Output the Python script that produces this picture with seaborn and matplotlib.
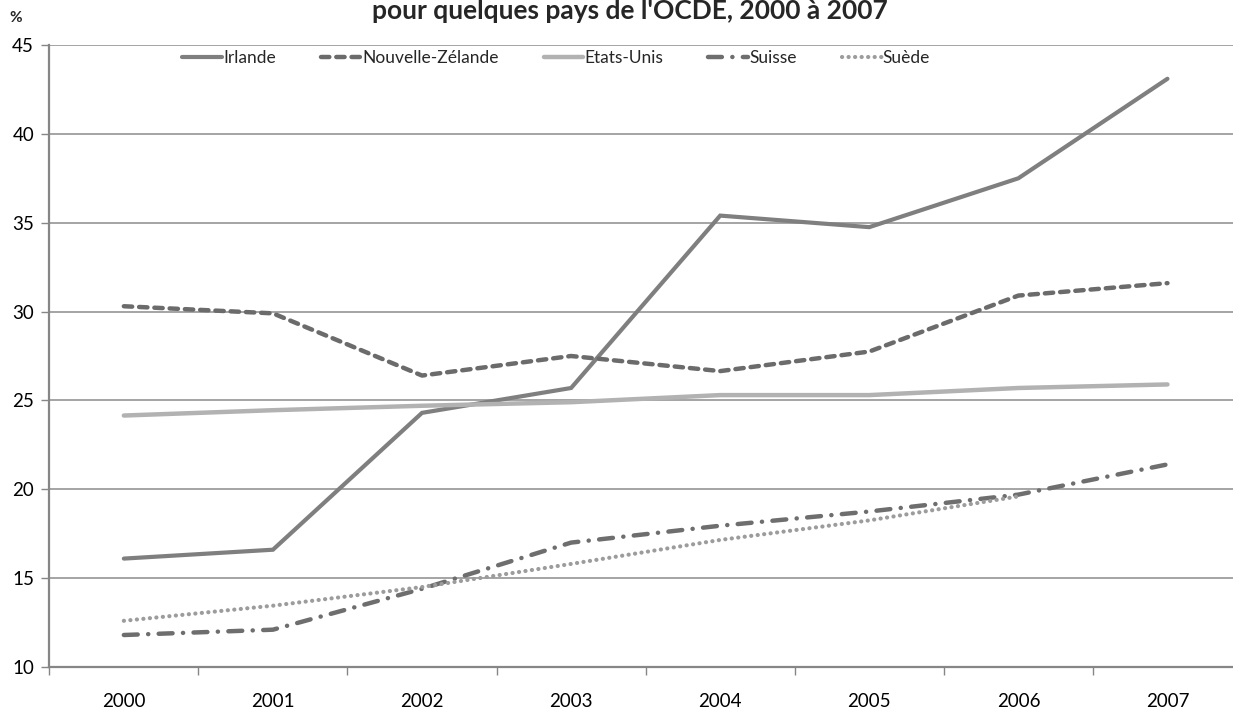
"""
plot.py

Recreates the OCDE line chart (share by country, 2000 to 2007) in grey tones.
"""

import numpy as np
import pandas as pd
import matplotlib
matplotlib.use("Agg")
import matplotlib.pyplot as plt
import seaborn as sns

sns.set_theme(style="white")
plt.rcParams["font.family"] = ["Lato", "DejaVu Sans"]

years = [2000, 2001, 2002, 2003, 2004, 2005, 2006, 2007]
irlande = [16.1, 16.6, 24.3, 25.7, 35.4, 34.75, 37.5, 43.1]
nouvelle_zelande = [30.3, 29.9, 26.4, 27.5, 26.65, 27.75, 30.9, 31.6]
etats_unis = [24.15, 24.45, 24.7, 24.9, 25.3, 25.3, 25.7, 25.9]
suisse = [11.8, 12.1, 14.4, 17.0, 17.95, 18.75, 19.7, 21.4]
suede = [12.6, 13.45, 14.5, 15.8, 17.15, 18.25, 19.6, np.nan]

y_ticks = [10, 15, 20, 25, 30, 35, 40, 45]

series = {
    "Irlande": irlande,
    "Nouvelle-Zélande": nouvelle_zelande,
    "Etats-Unis": etats_unis,
    "Suisse": suisse,
    "Suède": suede,
}

styles = {
    "Irlande": dict(color="#7f7f7f", lw=3.0, linestyle="-"),
    "Nouvelle-Zélande": dict(color="#6b6b6b", lw=3.2, linestyle=(0, (6.0, 5.0))),
    "Etats-Unis": dict(color="#b2b2b2", lw=3.2, linestyle="-"),
    "Suisse": dict(color="#6e6e6e", lw=3.2, linestyle=(0, (10.0, 7.5, 0.1, 7.5))),
    "Suède": dict(color="#9c9c9c", lw=3.0, linestyle=(0, (0.1, 4.6))),
}

rows = []
for name, values in series.items():
    for year, value in zip(years, values):
        rows.append({"year": year, "pays": name, "value": value})
df = pd.DataFrame(rows)

plt.rcParams["lines.scale_dashes"] = False

fig = plt.figure(figsize=(12.33, 7.12), dpi=100)
ax = fig.add_axes([49.3 / 1233, 45 / 712, (1242 - 49.3) / 1233, 622 / 712])

for name in series:
    sub = df[df["pays"] == name].dropna()
    sns.lineplot(
        data=sub, x="year", y="value", ax=ax, label=name,
        dash_capstyle="round", solid_capstyle="round", solid_joinstyle="miter",
        **styles[name],
    )

ax.set_xlim(1999.5, 2007.5)
ax.set_ylim(10, 45)
ax.set_yticks(y_ticks)
ax.set_xticks(years)
ax.set_xticks(np.arange(1999.5, 2008, 1.0), minor=True)
ax.tick_params(axis="x", which="major", length=0, pad=19, labelsize=13.5, colors="black")
ax.tick_params(axis="x", which="minor", length=6, width=1, color="#868686", direction="out")
ax.tick_params(axis="y", which="major", length=6, width=1, color="#868686", direction="out",
               labelsize=13.5, pad=5, colors="black")
ax.xaxis.set_tick_params(bottom=True, which="minor")
ax.yaxis.set_tick_params(left=True)
ax.grid(axis="y", color="#8c8c8c", lw=1.1)
ax.set_axisbelow(True)
ax.set_xlabel("")
ax.set_ylabel("")

for side in ["top", "right"]:
    ax.spines[side].set_visible(False)
for side in ["left", "bottom"]:
    ax.spines[side].set_color("#868686")
    ax.spines[side].set_linewidth(1.6)

ax.legend(
    loc="center", bbox_to_anchor=(0.425, 0.979), ncol=5, frameon=False,
    fontsize=12.5, handlelength=2.3, handletextpad=0.05, columnspacing=2.6,
)

fig.text(630 / 1233, 1 - 19 / 712, "pour quelques pays de l'OCDE, 2000 à 2007",
         ha="center", va="baseline", fontsize=19, fontweight="bold")
fig.text(16 / 1233, 1 - 22 / 712, "%", ha="center", va="baseline",
         fontsize=11, fontweight="bold")

fig.savefig("out.png", dpi=100)
plt.close(fig)
